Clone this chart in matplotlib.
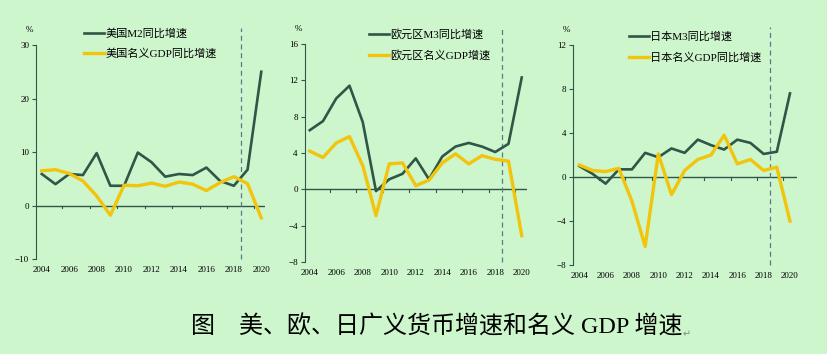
import numpy as np
import matplotlib
matplotlib.use('Agg')
import matplotlib.pyplot as plt

BG = '#CDF6CD'
DARK = '#2F5646'
YELLOW = '#F2C40C'
VLINE = '#5A7A8A'

years = list(range(2004, 2021))

us_m2 = [5.9, 4.0, 5.9, 5.7, 9.8, 3.7, 3.7, 9.9, 8.1, 5.4, 5.9, 5.7, 7.1, 4.6, 3.7, 6.7, 25.0]
us_gdp = [6.5, 6.7, 6.0, 4.6, 1.8, -1.8, 3.8, 3.7, 4.2, 3.6, 4.4, 4.0, 2.8, 4.3, 5.4, 4.1, -2.3]

eu_m3 = [6.5, 7.5, 10.0, 11.4, 7.4, -0.2, 1.1, 1.7, 3.4, 1.1, 3.6, 4.7, 5.1, 4.7, 4.1, 5.0, 12.3]
eu_gdp = [4.2, 3.5, 5.1, 5.8, 2.6, -2.9, 2.8, 2.9, 0.4, 1.0, 2.9, 3.9, 2.8, 3.7, 3.3, 3.1, -5.1]

jp_m3 = [1.0, 0.3, -0.6, 0.7, 0.7, 2.2, 1.8, 2.6, 2.2, 3.4, 2.9, 2.5, 3.4, 3.1, 2.1, 2.3, 7.6]
jp_gdp = [1.1, 0.6, 0.5, 0.8, -2.2, -6.3, 2.1, -1.6, 0.6, 1.6, 2.0, 3.8, 1.2, 1.6, 0.6, 0.9, -4.0]

panels = [
    dict(pos=[0.0435, 0.268, 0.277, 0.605], m=us_m2, g=us_gdp,
         m_label='美国M2同比增速', g_label='美国名义GDP同比增速',
         ylim=(-10, 30), yticks=[-10, 0, 10, 20, 30], xlim=(2003.58, 2020.3),
         leg=(0.19, 0.94)),
    dict(pos=[0.368, 0.260, 0.269, 0.616], m=eu_m3, g=eu_gdp,
         m_label='欧元区M3同比增速', g_label='欧元区名义GDP增速',
         ylim=(-8, 16), yticks=[-8, -4, 0, 4, 8, 12, 16], xlim=(2003.62, 2020.43),
         leg=(0.27, 0.93)),
    dict(pos=[0.6925, 0.251, 0.270, 0.622], m=jp_m3, g=jp_gdp,
         m_label='日本M3同比增速', g_label='日本名义GDP同比增速',
         ylim=(-8, 12), yticks=[-8, -4, 0, 4, 8, 12], xlim=(2003.55, 2020.53),
         leg=(0.23, 0.92)),
]

FONT = ['Liberation Serif', 'Noto Sans CJK SC']

fig = plt.figure(figsize=(8.28, 3.54), dpi=100, facecolor=BG)

for p in panels:
    ax = fig.add_axes(p['pos'])
    ax.set_facecolor(BG)
    ax.plot(years, p['m'], color=DARK, lw=1.9, label=p['m_label'], zorder=3)
    ax.plot(years, p['g'], color=YELLOW, lw=2.4, label=p['g_label'], zorder=4)
    ax.axhline(0, color=DARK, lw=1.0, zorder=2)
    for t in np.arange(2005.5, p['xlim'][1], 2):
        ax.plot([t, t], [0, -(p['ylim'][1] - p['ylim'][0]) * 0.012], color=DARK, lw=0.8)
    ax.axvline(2018.5, color=VLINE, lw=0.9, ls=(0, (4, 3)), ymax=1.08, clip_on=False)
    ax.set_xlim(*p['xlim'])
    ax.set_ylim(*p['ylim'])
    ax.set_yticks(p['yticks'])
    ax.set_xticks(range(2004, 2021, 2))
    for s in ['top', 'right', 'bottom']:
        ax.spines[s].set_visible(False)
    ax.spines['left'].set_color(DARK)
    ax.tick_params(axis='y', direction='out', length=3, color=DARK, labelsize=6.5, pad=2)
    ax.tick_params(axis='x', length=0, labelsize=6.5, pad=5)
    for lab in ax.get_xticklabels() + ax.get_yticklabels():
        lab.set_family(FONT)
    ax.text(-0.03, 1.06, '%', transform=ax.transAxes, fontsize=6.5, family=FONT, ha='center')
    ax.legend(loc='upper left', bbox_to_anchor=(p['leg'][0], p['leg'][1] + 0.16),
              frameon=False, prop={'family': FONT, 'size': 8},
              handlelength=1.8, handletextpad=0.1, labelspacing=0.9, borderaxespad=0)

fig.text(0.528, 0.075, '图　美、欧、日广义货币增速和名义 GDP 增速',
         ha='center', va='center', fontsize=17.3, family=FONT)
fig.text(0.824, 0.055, '↵', ha='left', va='center', fontsize=7, color='#888888',
         family=['DejaVu Sans'])

fig.savefig('out.png', dpi=100, facecolor=BG)
